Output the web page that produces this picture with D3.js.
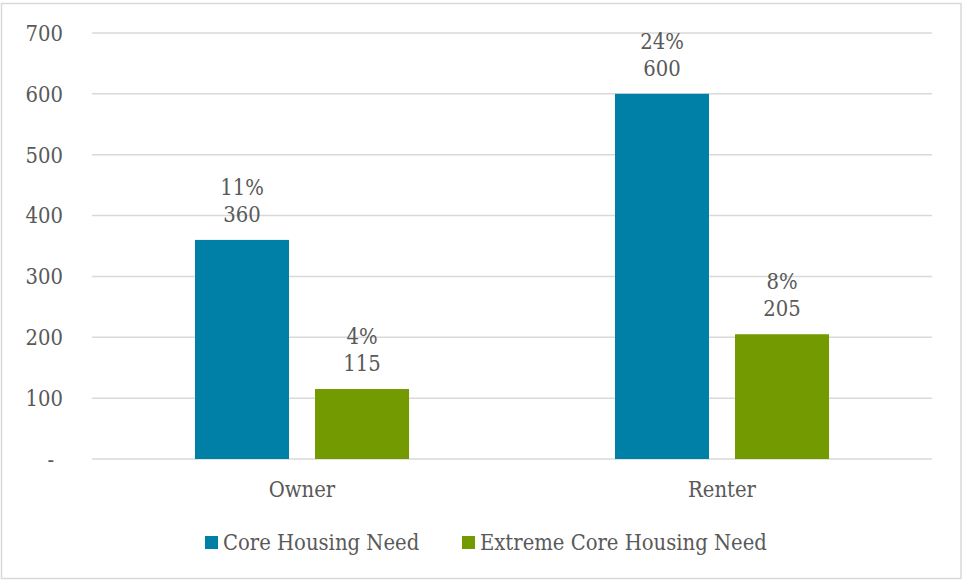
<!DOCTYPE html>
<html><head><meta charset="utf-8">
<script src="https://cdn.jsdelivr.net/npm/d3@7"></script>
<style>
body{margin:0;background:#fff;}
text{font-family:"DejaVu Serif Condensed","DejaVu Serif",serif;font-stretch:condensed;fill:#595959;}
</style></head><body>
<svg id="c" width="963" height="580"></svg>
<script>
const categories = ["Owner", "Renter"];
const seriesNames = ["Core Housing Need", "Extreme Core Housing Need"];
const coreValues = [360, 600];
const extremeValues = [115, 205];
const corePct = ["11%", "24%"];
const extremePct = ["4%", "8%"];
const yTicks = [0, 100, 200, 300, 400, 500, 600, 700];
const colors = ["#0080A6", "#739A00"];
const FS = 21.8;

const svg = d3.select("#c");
svg.append("rect").attr("x", 1.5).attr("y", 3.5).attr("width", 959.5).attr("height", 575)
  .attr("fill", "#fff").attr("stroke", "#d9d9d9").attr("stroke-width", 1.5);

const plot = {left: 92, right: 932, top: 33, bottom: 459};
const y = d3.scaleLinear().domain([0, 700]).range([plot.bottom, plot.top]);
const x = d3.scaleBand().domain(categories).range([plot.left, plot.right]);
const x1 = d3.scaleBand().domain(seriesNames).range([0, x.bandwidth()])
  .paddingInner(0.2167).paddingOuter(0.858);

// gridlines
svg.append("g").selectAll("line").data(yTicks).join("line")
  .attr("x1", plot.left).attr("x2", plot.right)
  .attr("y1", d => y(d)).attr("y2", d => y(d))
  .attr("stroke", "#d9d9d9").attr("stroke-width", 1.5);

// y axis labels
svg.append("g").selectAll("text").data(yTicks).join("text")
  .attr("x", d => d === 0 ? 54 : 63)
  .attr("y", d => y(d))
  .attr("dy", "0.36em")
  .attr("text-anchor", "end")
  .attr("font-size", FS)
  .text(d => d === 0 ? "-" : d);

const rows = categories.map((c, i) => [
  {cat: c, s: seriesNames[0], v: coreValues[i], p: corePct[i], col: colors[0]},
  {cat: c, s: seriesNames[1], v: extremeValues[i], p: extremePct[i], col: colors[1]}
]).flat();

svg.append("g").selectAll("rect").data(rows).join("rect")
  .attr("x", d => x(d.cat) + x1(d.s))
  .attr("y", d => y(d.v))
  .attr("width", x1.bandwidth())
  .attr("height", d => y(0) - y(d.v))
  .attr("fill", d => d.col);

const lbl = svg.append("g").selectAll("text").data(rows).join("text")
  .attr("text-anchor", "middle")
  .attr("font-size", FS);
lbl.append("tspan")
  .attr("x", d => x(d.cat) + x1(d.s) + x1.bandwidth() / 2)
  .attr("y", d => y(d.v) - 45)
  .text(d => d.p);
lbl.append("tspan")
  .attr("x", d => x(d.cat) + x1(d.s) + x1.bandwidth() / 2)
  .attr("y", d => y(d.v) - 18)
  .text(d => d.v);

// category labels
svg.append("g").selectAll("text").data(categories).join("text")
  .attr("x", d => x(d) + x.bandwidth() / 2)
  .attr("y", 497)
  .attr("text-anchor", "middle")
  .attr("font-size", FS)
  .text(d => d);

// legend
const legX = [205, 462];
const leg = svg.append("g").selectAll("g").data(seriesNames).join("g")
  .attr("transform", (d, i) => `translate(${legX[i]},0)`);
leg.append("rect").attr("x", 0).attr("y", 536).attr("width", 13).attr("height", 13)
  .attr("fill", (d, i) => colors[i]);
leg.append("text").attr("x", 18).attr("y", 550).attr("font-size", FS).text(d => d);
</script>
</body></html>
